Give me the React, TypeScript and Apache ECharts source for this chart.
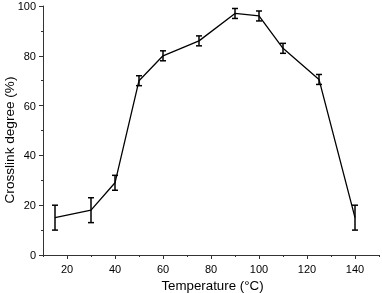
import React, { useEffect, useRef } from "react";
import * as echarts from "echarts";

const temperatures = [15, 30, 40, 50, 60, 75, 90, 100, 110, 125, 140];
const crosslink = [15, 18, 29, 70, 80, 86, 97, 96, 83, 70.5, 15];
const errors = [5, 5, 3, 2, 2, 2, 2, 2, 2, 2, 5];
const xMajorTicks = [20, 40, 60, 80, 100, 120, 140];
const xTitle = "Temperature (°C)";
const yTitle = "Crosslink degree (%)";

export default function App() {
  const ref = useRef<HTMLDivElement>(null);
  useEffect(() => {
    if (!ref.current) return;
    const chart = echarts.init(ref.current, undefined, { renderer: "svg" });
    const font = "Liberation Sans, Arial, sans-serif";
    const axisColor = "#333";
    const lineData = temperatures.map((t, i) => [t, crosslink[i]]);
    const errData = temperatures.map((t, i) => [t, crosslink[i] - errors[i], crosslink[i] + errors[i]]);
    chart.setOption({
      animation: false,
      grid: { left: 43, right: 2, top: 6, bottom: 38 },
      graphic: [
        {
          type: "text",
          x: 212.5,
          y: 285,
          style: {
            text: xTitle,
            fontFamily: font,
            fontSize: 13.3,
            fill: "#000",
            textAlign: "center",
            textVerticalAlign: "middle",
          },
        },
        {
          type: "text",
          x: 9.5,
          y: 140,
          rotation: Math.PI / 2,
          style: {
            text: yTitle,
            fontFamily: font,
            fontSize: 13.6,
            fill: "#000",
            textAlign: "center",
            textVerticalAlign: "middle",
          },
        },
      ],
      xAxis: [
        {
          type: "value",
          min: 10,
          max: 150,
          interval: 10,
          axisLine: { show: true, lineStyle: { color: axisColor, width: 1 } },
          axisTick: { show: true, length: 2, lineStyle: { color: axisColor } },
          axisLabel: {
            margin: 8,
            fontFamily: font,
            fontSize: 11,
            color: "#000",
            formatter: (v: number) => (v % 20 === 0 && v >= 20 && v <= 140 ? String(v) : ""),
          },
          splitLine: { show: false },
        },
        {
          type: "value",
          position: "bottom",
          min: 10,
          max: 150,
          interval: 10,
          axisLine: { show: false },
          axisTick: { show: true, length: 4, customValues: xMajorTicks, lineStyle: { color: axisColor } },
          axisLabel: { show: false },
          splitLine: { show: false },
        },
      ],
      yAxis: {
        type: "value",
        min: 0,
        max: 100,
        interval: 20,
        axisLine: { show: true, lineStyle: { color: axisColor, width: 1 } },
        axisTick: { show: true, length: 4, lineStyle: { color: axisColor } },
        minorTick: { show: true, splitNumber: 2, length: 2, lineStyle: { color: axisColor } },
        axisLabel: { margin: 7, fontFamily: font, fontSize: 11, color: "#000" },
        splitLine: { show: false },
      },
      series: [
        {
          type: "line",
          data: lineData,
          symbol: "none",
          lineStyle: { color: "#000", width: 1.3 },
          z: 2,
        },
        {
          type: "custom",
          data: errData,
          z: 3,
          renderItem: (params: any, api: any) => {
            const x = api.value(0);
            const lo = api.coord([x, api.value(1)]);
            const hi = api.coord([x, api.value(2)]);
            const w = 3;
            const style = { stroke: "#000", lineWidth: 1.5 };
            return {
              type: "group",
              children: [
                { type: "line", shape: { x1: lo[0], y1: lo[1], x2: hi[0], y2: hi[1] }, style },
                { type: "line", shape: { x1: lo[0] - w, y1: lo[1], x2: lo[0] + w, y2: lo[1] }, style },
                { type: "line", shape: { x1: hi[0] - w, y1: hi[1], x2: hi[0] + w, y2: hi[1] }, style },
              ],
            };
          },
        },
      ],
    });
    return () => chart.dispose();
  }, []);
  return <div ref={ref} style={{ position: "fixed", left: 0, top: 0, width: 382, height: 293 }} />;
}
